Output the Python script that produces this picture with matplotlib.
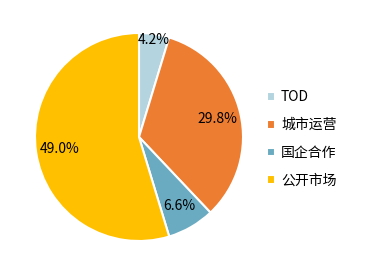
import matplotlib.pyplot as plt
import numpy as np

plt.rcParams['font.family'] = ['Noto Sans CJK SC', 'DejaVu Sans']

# 数据
categories = ['TOD', '城市运营', '国企合作', '公开市场']
shares = [4.2, 29.8, 6.6, 49.0]
colors = ['#B4D4DF', '#ED7D31', '#6AABC1', '#FFC000']

fig = plt.figure(figsize=(3.69, 2.74), dpi=100)
ax = fig.add_axes([35 / 369, 1 - 241 / 274, 208 / 369, 208 / 274])

wedges, texts, autotexts = ax.pie(
    shares, colors=colors, startangle=90, counterclock=False,
    autopct='%1.1f%%', pctdistance=0.77,
    wedgeprops=dict(edgecolor='white', linewidth=1.5),
    textprops=dict(fontsize=10, color='black'))

# 百分比标签显示原始数值
for t, v in zip(autotexts, shares):
    t.set_text(f'{v:.1f}%')

# TOD标签靠外
w = wedges[0]
ang = np.deg2rad((w.theta1 + w.theta2) / 2)
autotexts[0].set_position((0.94 * np.cos(ang), 0.94 * np.sin(ang)))

ax.set_aspect('equal')
ax.set_xlim(-1.0, 1.0)
ax.set_ylim(-1.0, 1.0)

leg = fig.legend(wedges, categories, loc='upper left',
                 bbox_to_anchor=(256 / 369, 1 - 79 / 274),
                 frameon=False, fontsize=10,
                 handlelength=0.6, handleheight=0.6, handletextpad=0.4,
                 labelspacing=1.0, borderpad=0.3)

fig.savefig('out.png', dpi=100)
